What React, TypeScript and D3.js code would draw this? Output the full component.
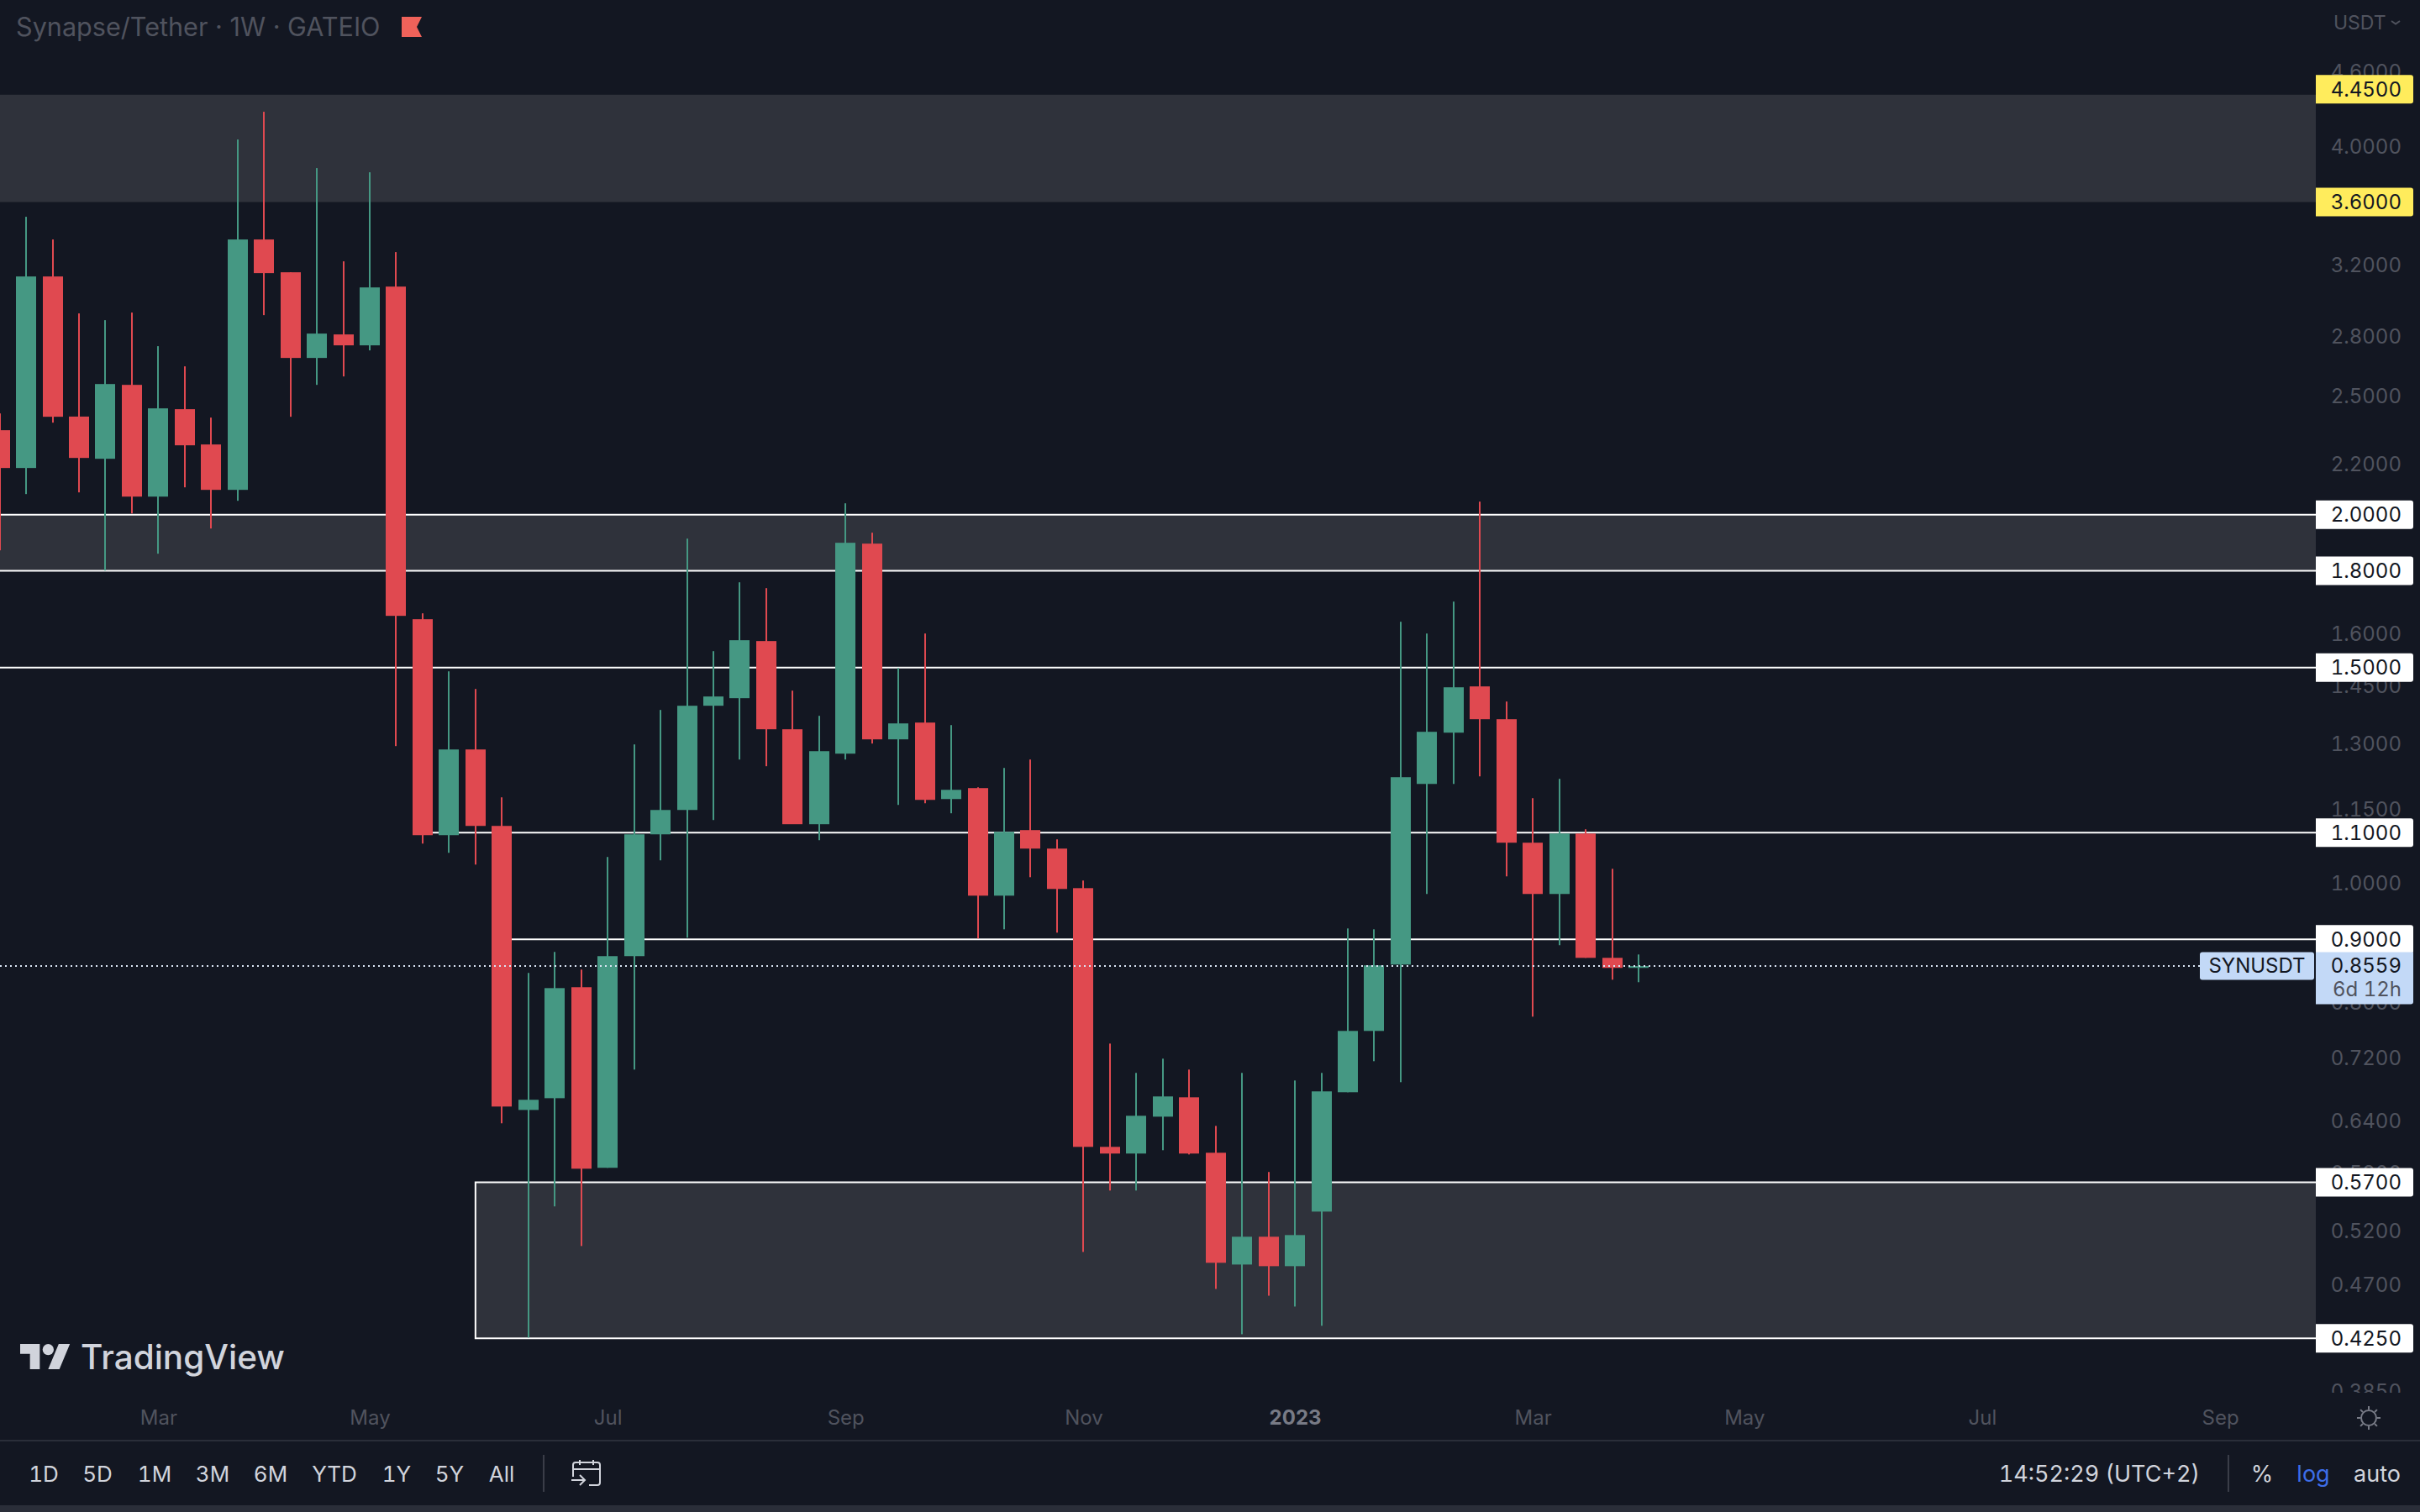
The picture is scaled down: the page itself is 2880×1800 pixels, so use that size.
import { useEffect, useRef } from 'react';
import { axisBottom, axisRight, format, scaleLog, scaleUtc, select, utcMonday } from 'd3';

// weekly candles, first one is the week of 24 Jan 2022
const firstWeek = new Date(Date.UTC(2022, 0, 24));

const opens = [
  2.3441, 2.1833, 3.1298, 2.405, 2.2215, 2.5527, 2.0689, 2.4386, 2.2821, 2.0954, 3.3552, 3.1546, 2.6852, 2.8066, 2.7496,
  3.0708, 1.643, 1.0947, 1.2861, 1.1139, 0.653, 0.6676, 0.8225, 0.5857, 0.872, 1.0964, 1.1478, 1.3963, 1.4163, 1.5769,
  1.3359, 1.1175, 1.276, 1.8939, 1.3108, 1.3528, 1.1716, 1.196, 0.977, 1.1052, 1.0674, 0.9909, 0.6092, 0.6016, 0.6448,
  0.6687, 0.6025, 0.4883, 0.5145, 0.4868, 0.5394, 0.6751, 0.7576, 0.8583, 1.2054, 1.3274, 1.448, 1.3614, 1.0793, 0.9801,
  1.0981, 0.8692, 0.8529,
];
const highs = [
  2.4193, 3.5014, 3.3552, 2.9197, 2.883, 2.9243, 2.7453, 2.6431, 2.4003, 4.0491, 4.2657, 3.1546, 3.8373, 3.2201, 3.8071,
  3.2766, 1.6613, 1.4896, 1.441, 1.1754, 0.8449, 0.8789, 0.8502, 1.0507, 1.2984, 1.3853, 1.9118, 1.5472, 1.7611, 1.7418,
  1.4365, 1.3701, 2.0431, 1.9332, 1.499, 1.5994, 1.3464, 1.1978, 1.2422, 1.262, 1.0861, 1.0052, 0.7398, 0.7001, 0.7191,
  0.7045, 0.6337, 0.7001, 0.5811, 0.6902, 0.7001, 0.9186, 0.9171, 1.6352, 1.5994, 1.6983, 2.0496, 1.4074, 1.1735, 1.217,
  1.1069, 1.0276, 0.8747,
];
const lows = [
  1.8702, 2.0789, 2.3777, 2.0855, 1.8006, 2.0045, 1.8584, 2.1054, 1.9486, 2.0528, 2.9105, 2.4041, 2.5527, 2.5935, 2.7237,
  1.2943, 1.0775, 1.059, 1.0358, 0.6368, 0.4256, 0.5447, 0.5056, 0.5857, 0.7045, 1.0441, 0.9028, 1.1263, 1.262, 1.2462,
  1.3069, 1.0844, 1.262, 1.3005, 1.1588, 1.1624, 1.1407, 0.9014, 0.9171, 1.0115, 0.9114, 0.5, 0.5612, 0.5612, 0.6054,
  0.6006, 0.4664, 0.4283, 0.4605, 0.4512, 0.4352, 0.6751, 0.7157, 0.688, 0.9801, 1.2054, 1.2227, 1.0131, 0.7782, 0.8901,
  0.8692, 0.8342, 0.8303,
];
const closes = [
  2.1833, 3.1298, 2.4041, 2.225, 2.5567, 2.0689, 2.4424, 2.2785, 2.0954, 3.3552, 3.1497, 2.6852, 2.8111, 2.7496, 3.066,
  1.6534, 1.0947, 1.2861, 1.1139, 0.6572, 0.6656, 0.8211, 0.5847, 0.872, 1.0964, 1.1478, 1.3963, 1.4208, 1.5794, 1.3359,
  1.1175, 1.282, 1.8969, 1.3108, 1.3507, 1.1698, 1.1921, 0.977, 1.1016, 1.0674, 0.9894, 0.6092, 0.6016, 0.6459, 0.6698,
  0.6016, 0.4899, 0.5145, 0.4868, 0.5161, 0.6762, 0.7576, 0.857, 1.2208, 1.3295, 1.4456, 1.3614, 1.0793, 0.9801, 1.0981,
  0.8692, 0.8529, 0.8559,
];

const priceTicks = [4.6, 4.0, 3.2, 2.8, 2.5, 2.2, 1.6, 1.45, 1.3, 1.15, 1.0, 0.8, 0.72, 0.64, 0.58, 0.52, 0.47, 0.385];
const timeTickDates = ['2022-03-07', '2022-05-02', '2022-07-04', '2022-09-05', '2022-11-07', '2023-01-02', '2023-03-06', '2023-05-01', '2023-07-03', '2023-09-04'];
const timeTickLabels = ['Mar', 'May', 'Jul', 'Sep', 'Nov', '2023', 'Mar', 'May', 'Jul', 'Sep'];
const rangeButtons = ['1D', '5D', '1M', '3M', '6M', 'YTD', '1Y', '5Y', 'All'];
const rangeButtonCenters = [52, 116, 184, 253, 322, 398, 472, 535, 597];

const yellowLevels = [4.45, 3.6];
const whiteLevels = [2.0, 1.8, 1.5, 1.1, 0.9, 0.57, 0.425];
const lastPrice = 0.8559;

const bg = '#131722';
const zoneFill = '#2f323b';
const upColor = '#459883';
const downColor = '#e04950';
const tickColor = '#50535e';
const uiText = '#d1d4dc';
const font = 'Inter, "Noto Sans", sans-serif';

const width = 2880;
const height = 1800;
const plotRight = 2756;
const labelWidth = 116;

const y = scaleLog().domain([4.45, 0.425]).range([106.3, 1593.3]);
const x = scaleUtc()
  .domain([firstWeek, utcMonday.offset(firstWeek, 62)])
  .range([-0.4, 1950]);
const weekX = (i: number) => x(utcMonday.offset(firstWeek, i));

export default function App() {
  const priceAxisRef = useRef<SVGGElement | null>(null);
  const timeAxisRef = useRef<SVGGElement | null>(null);

  useEffect(() => {
    const priceAxis = select(priceAxisRef.current as SVGGElement);
    priceAxis.call(axisRight(y).tickValues(priceTicks).tickFormat((d) => format('.4f')(d as number)).tickSize(0) as any);
    priceAxis.select('.domain').remove();
    priceAxis
      .selectAll('text')
      .attr('x', 2858)
      .attr('dy', '0.35em')
      .attr('text-anchor', 'end')
      .attr('fill', tickColor)
      .attr('font-family', font)
      .attr('font-size', 24)
      .style('font-variant-numeric', 'tabular-nums');

    const dates = timeTickDates.map((d) => new Date(d + 'T00:00:00Z'));
    const timeAxis = select(timeAxisRef.current as SVGGElement);
    timeAxis.call(axisBottom(x).tickValues(dates).tickFormat((_, i) => timeTickLabels[i]).tickSize(0) as any);
    timeAxis.select('.domain').remove();
    timeAxis
      .selectAll('text')
      .attr('y', 0)
      .attr('dy', '0.35em')
      .attr('fill', (_, i) => (timeTickLabels[i] === '2023' ? '#787b86' : tickColor))
      .attr('font-weight', (_, i) => (timeTickLabels[i] === '2023' ? 700 : 400))
      .attr('font-family', font)
      .attr('font-size', 24);
  }, []);

  const zone = (top: number, bottom: number, start: number) => (
    <rect x={start} y={y(top)} width={plotRight - start} height={y(bottom) - y(top)} fill={zoneFill} />
  );
  const level = (price: number, start: number) => (
    <line x1={start} x2={plotRight} y1={y(price)} y2={y(price)} stroke="#ffffff" strokeWidth={2} />
  );
  const label = (price: number, fill: string) => (
    <g key={price}>
      <path
        d={`M${plotRight} ${y(price) - 17}h${labelWidth - 3}q3 0 3 3v28q0 3 -3 3h-${labelWidth - 3}z`}
        fill={fill}
      />
      <text
        x={2858}
        y={y(price)}
        dy="0.35em"
        textAnchor="end"
        fontFamily={font}
        fontSize={24}
        fill="#131722"
        style={{ fontVariantNumeric: 'tabular-nums' }}
      >
        {format('.4f')(price)}
      </text>
    </g>
  );

  const boxStart = weekX(18);

  return (
    <svg
      width={width}
      height={height}
      viewBox={`0 0 ${width} ${height}`}
      style={{ position: 'absolute', left: 0, top: 0, display: 'block' }}
    >
      <defs>
        <clipPath id="price-axis-clip">
          <rect x={plotRight} y={0} width={124} height={1658} />
        </clipPath>
      </defs>
      <rect width={width} height={height} fill={bg} />

      {zone(4.405, 3.6, 0)}
      {zone(2.0, 1.8, 0)}
      {zone(0.57, 0.425, boxStart)}

      {level(2.0, 0)}
      {level(1.8, 0)}
      {level(1.5, 0)}
      {level(1.1, weekX(16))}
      {level(0.9, weekX(19))}
      <path
        d={`M${plotRight} ${y(0.57)}H${boxStart}V${y(0.425)}H${plotRight}`}
        fill="none"
        stroke="#ffffff"
        strokeWidth={2}
      />

      <g>
        {opens.map((open, i) => {
          const close = closes[i];
          const color = close >= open ? upColor : downColor;
          const cx = Math.round(weekX(i));
          const top = y(Math.max(open, close));
          const bottom = y(Math.min(open, close));
          return (
            <g key={i}>
              <rect x={cx - 1} y={y(highs[i])} width={2} height={y(lows[i]) - y(highs[i])} fill={color} />
              <rect x={cx - 12} y={top} width={24} height={Math.max(bottom - top, 2)} fill={color} />
            </g>
          );
        })}
      </g>

      <line
        x1={0}
        x2={2618}
        y1={y(lastPrice)}
        y2={y(lastPrice)}
        stroke="#dbe6f5"
        strokeWidth={2}
        strokeDasharray="2 4"
      />

      <g ref={priceAxisRef} clipPath="url(#price-axis-clip)" />

      {yellowLevels.map((p) => label(p, '#ffec5c'))}
      {whiteLevels.map((p) => label(p, '#ffffff'))}

      <rect x={2618} y={1133.5} width={136} height={33} rx={3} fill="#c3d9f7" />
      <text x={2686} y={y(lastPrice)} dy="0.35em" textAnchor="middle" fontFamily={font} fontSize={24} fill="#131722">
        SYNUSDT
      </text>
      <path d={`M${plotRight} 1133.5h${labelWidth}v59q0 3 -3 3h-${labelWidth - 3}z`} fill="#c3d9f7" />
      <text
        x={2858}
        y={y(lastPrice)}
        dy="0.35em"
        textAnchor="end"
        fontFamily={font}
        fontSize={24}
        fill="#131722"
        style={{ fontVariantNumeric: 'tabular-nums' }}
      >
        {format('.4f')(lastPrice)}
      </text>
      <text
        x={2858}
        y={1177.5}
        dy="0.35em"
        textAnchor="end"
        fontFamily={font}
        fontSize={24}
        fill="#50535e"
        style={{ fontVariantNumeric: 'tabular-nums' }}
      >
        6d 12h
      </text>

      <text x={19} y={32} dy="0.35em" fontFamily={font} fontSize={30.6} fill="#50535e">
        Synapse/Tether · 1W · GATEIO
      </text>
      <path d="M478 20h24l-6 12l6 12h-24z" fill="#f0625a" />
      <text x={2777} y={27} dy="0.35em" fontFamily={font} fontSize={23} fill={tickColor}>
        USDT
      </text>
      <path d="M2846 25l5 3.5l5 -3.5" fill="none" stroke={tickColor} strokeWidth={2} />

      <g transform="translate(24 1593.3) scale(1.667)" fill={uiText}>
        <path d="M14 22H7V11H0V4h14v18zM28 22h-8l7.5-18h8L28 22z" />
        <circle cx={20} cy={8} r={4} />
      </g>
      <text x={96} y={1616} dy="0.35em" fontFamily={font} fontSize={40.5} fontWeight={500} fill={uiText}>
        TradingView
      </text>

      <g ref={timeAxisRef} transform="translate(0 1688)" />
      <rect x={0} y={1714} width={width} height={2} fill="#2a2e39" />
      <rect x={0} y={1792} width={width} height={8} fill="#2a2e39" />

      {rangeButtons.map((b, i) => (
        <text
          key={b}
          x={rangeButtonCenters[i]}
          y={1755}
          dy="0.35em"
          textAnchor="middle"
          fontFamily={font}
          fontSize={26}
          fill={uiText}
          style={{ fontVariantNumeric: 'tabular-nums' }}
        >
          {b}
        </text>
      ))}
      <rect x={646} y={1732} width={2} height={44} fill="#3a3d48" />
      <g fill="none" stroke={uiText} strokeWidth={2}>
        <path d="M682 1758v-14q0 -3 3 -3h26q3 0 3 3v21q0 3 -3 3h-10M682 1749h32M690 1738v6M706 1738v6" />
        <path d="M680 1762h15M690 1756l6 6l-6 6" />
      </g>

      <text
        x={2618}
        y={1755}
        dy="0.35em"
        textAnchor="end"
        fontFamily={font}
        fontSize={27}
        fill={uiText}
        style={{ fontVariantNumeric: 'tabular-nums' }}
      >
        14:52:29 (UTC+2)
      </text>
      <rect x={2651} y={1732} width={2} height={44} fill="#3a3d48" />
      <text x={2692} y={1755} dy="0.35em" textAnchor="middle" fontFamily={font} fontSize={27} fill={uiText}>
        %
      </text>
      <text x={2753} y={1755} dy="0.35em" textAnchor="middle" fontFamily={font} fontSize={27} fill="#3d6ee8">
        log
      </text>
      <text x={2829} y={1755} dy="0.35em" textAnchor="middle" fontFamily={font} fontSize={27} fill={uiText}>
        auto
      </text>

      <g transform="translate(2819 1688)" fill="none" stroke="#787b86" strokeWidth={2}>
        <circle r={9} />
        {[0, 45, 90, 135, 180, 225, 270, 315].map((a) => (
          <line key={a} y1={-10} y2={-14} transform={`rotate(${a})`} />
        ))}
      </g>
    </svg>
  );
}
